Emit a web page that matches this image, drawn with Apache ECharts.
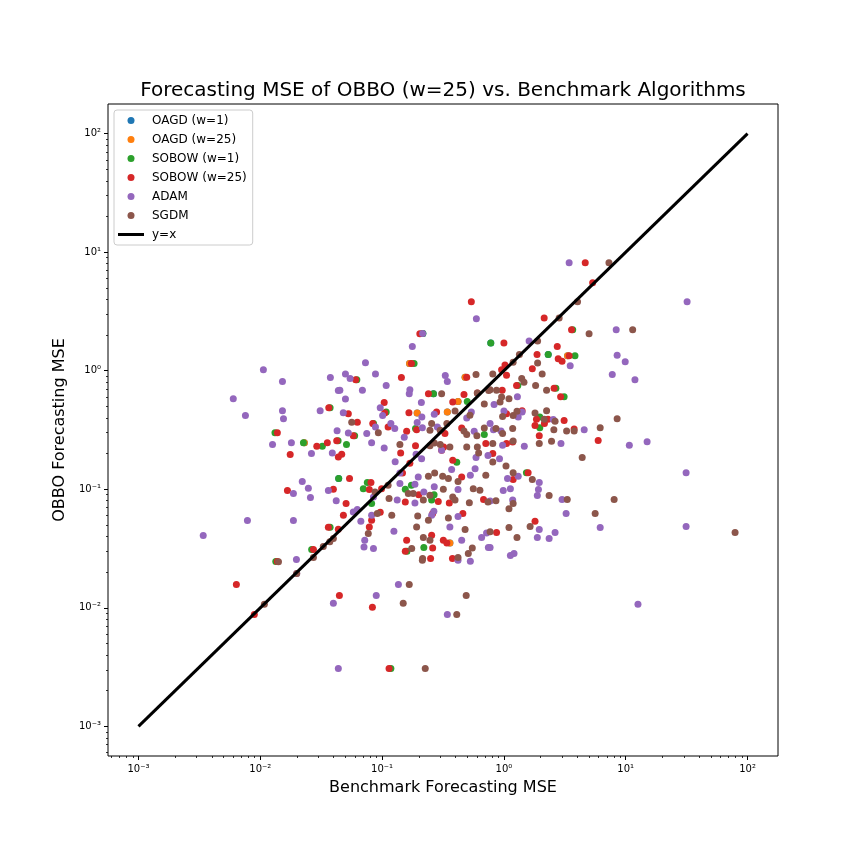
<!DOCTYPE html>
<html>
<head>
<meta charset="utf-8">
<script src="https://cdn.jsdelivr.net/npm/echarts@6/dist/echarts.min.js"></script>
<style>html,body{margin:0;padding:0;background:#fff}#c{width:864px;height:864px}</style>
</head>
<body>
<div id="c"></div>
<script>
const titleText = 'Forecasting MSE of OBBO (w=25) vs. Benchmark Algorithms';
const xLabel = 'Benchmark Forecasting MSE';
const yLabel = 'OBBO Forecasting MSE';
const seriesNames = ['OAGD (w=1)', 'OAGD (w=25)', 'SOBOW (w=1)', 'SOBOW (w=25)', 'ADAM', 'SGDM'];
const tickValues = [1e-3, 1e-2, 1e-1, 1, 10, 100];
const tickLabels = ['10\u207B\u00B3', '10\u207B\u00B2', '10\u207B\u00B9', '10\u2070', '10\u00B9', '10\u00B2'];
const axisMin = 5.62e-4;
const axisMax = 177.8;
const refLine = [[1e-3, 1e-3], [100, 100]];

const oagd1 = [[0.168,1.15],[0.48,0.88],[0.42,0.55],[0.194,0.439],[0.343,0.448],[0.023,0.247],[3.33,1.34],[0.36,0.0352],[0.216,2.06],[0.78,1.71],[0.264,0.64],[2.31,1.37],[0.044,0.123]];
const oagd25 = [[0.168,1.15],[0.48,0.88],[0.42,0.55],[0.194,0.439],[0.343,0.448],[0.023,0.247],[3.33,1.34],[0.36,0.0352]];
const sobow1 = [[0.0374,0.488],[0.0132,0.30],[0.0226,0.247],[0.0323,0.23],[0.0435,0.257],[0.216,2.06],[0.183,1.15],[0.78,1.71],[0.062,0.84],[0.264,0.64],[0.5,0.55],[0.108,0.448],[0.188,0.325],[0.69,0.29],[0.0595,0.283],[0.085,0.358],[0.051,0.238],[2.31,1.37],[3.83,1.34],[3.67,2.22],[1.3,0.75],[2.67,0.71],[3.12,0.604],[1.97,0.407],[1.97,0.33],[0.044,0.123],[0.0374,0.0478],[0.0264,0.031],[0.0134,0.0246],[0.0701,0.101],[0.0756,0.114],[0.155,0.1],[0.174,0.108],[0.267,0.09],[0.255,0.081],[0.082,0.0758],[0.41,0.169],[0.16,0.03],[0.22,0.0323],[1.53,0.138],[0.118,0.00308]];
const sobow25 = [[0.0365,0.488],[0.0138,0.30],[0.0291,0.23],[0.0355,0.247],[0.0424,0.257],[0.204,2.05],[0.174,1.15],[0.0607,0.84],[0.144,0.875],[0.495,0.88],[0.104,0.54],[0.105,0.439],[0.166,0.443],[0.28,0.448],[0.24,0.64],[0.47,0.63],[0.605,0.648],[0.38,0.545],[0.0528,0.434],[0.0626,0.367],[0.0838,0.358],[0.112,0.335],[0.328,0.295],[0.45,0.329],[0.159,0.308],[0.192,0.318],[0.058,0.283],[0.188,0.233],[0.32,0.227],[0.71,0.243],
[3.59,2.22],[1.0,1.71],[2.74,1.6],[1.87,1.37],[2.79,1.26],[3.0,1.2],[3.43,1.34],[1.71,1.04],[1.02,1.12],[0.957,1.02],[1.05,0.915],[1.27,0.75],[2.58,0.71],[2.92,0.604],[0.968,0.683],[1.05,0.434],[1.41,0.46],[1.85,0.39],[1.8,0.345],[2.15,0.358],[2.3,0.39],[3.12,0.38],[3.77,0.322],[1.95,0.283],[5.94,0.258],[1.05,0.243],[1.18,0.25],
[0.0176,0.196],[0.0437,0.187],[0.0167,0.0975],[0.0398,0.1],[0.0362,0.0478],[0.0437,0.046],[0.0273,0.031],[0.0138,0.0246],
[0.0466,0.197],[0.142,0.202],[0.169,0.166],[0.308,0.213],[0.38,0.176],[0.147,0.137],[0.054,0.123],[0.081,0.114],[0.0785,0.0994],[0.099,0.101],[0.2,0.09],[0.45,0.127],[0.68,0.082],[0.356,0.0767],[0.289,0.079],[0.155,0.078],[0.0506,0.0758],[0.0481,0.0603],[0.0965,0.064],[0.082,0.0547],[0.0785,0.0481],[0.46,0.0624],[0.26,0.0624],[0.159,0.0372],[0.255,0.041],[0.318,0.0372],[0.34,0.0352],[0.155,0.03],[0.26,0.032],[0.25,0.026],[0.378,0.026],
[0.81,0.2],[1.19,0.121],[1.58,0.138],[1.8,0.0537],[0.87,0.0432],
[4.65,8.14],[5.35,5.53],[2.14,2.78],[0.54,3.82],
[0.00636,0.0157],[0.00893,0.00877],[0.0446,0.0127],[0.0832,0.0101],[0.114,0.00308]];
const adam = [[0.0106,1.02],[0.0152,0.81],[0.0376,0.875],[0.0437,0.68],[0.006,0.58],[0.00755,0.418],[0.0152,0.46],[0.0155,0.394],[0.031,0.46],[0.0427,0.312],[0.0126,0.238],[0.018,0.247],[0.215,2.06],[0.177,1.6],[0.073,1.17],[0.05,0.94],[0.0546,0.86],[0.0882,0.94],[0.108,0.75],[0.0689,0.683],[0.169,0.69],[0.167,0.64],[0.33,0.91],[0.343,0.81],[0.045,0.683],[0.05,0.577],[0.21,0.54],[0.0965,0.488],[0.101,0.418],[0.54,0.448],[0.495,0.40],[0.048,0.443],[0.118,0.358],[0.127,0.325],[0.194,0.365],[0.212,0.407],[0.268,0.429],[0.284,0.335],[0.57,0.308],[0.214,0.33],[0.0528,0.298],[0.0748,0.295],[0.082,0.247],[0.152,0.274],[0.104,0.223],[0.0882,0.335],
[1.61,1.78],[3.5,1.10],[8.35,2.22],[8.5,1.35],[9.9,1.19],[7.75,0.93],[11.9,0.84],[0.83,0.52],[1.29,0.604],[1.0,0.457],[1.31,0.407],[1.41,0.448],[2.54,0.387],[4.56,0.318],[0.77,0.358],[0.82,0.318],[0.946,0.31],[0.975,0.235],[1.47,0.23],[2.94,0.243],[10.7,0.235],
[0.0263,0.2],[0.039,0.202],[0.0221,0.116],[0.0248,0.102],[0.0187,0.092],[0.0258,0.085],[0.0362,0.0975],[0.042,0.08],[0.00784,0.0545],[0.0187,0.0545],[0.0034,0.0408],[0.0198,0.0255],[0.0199,0.0195],
[0.128,0.171],[0.19,0.197],[0.211,0.181],[0.308,0.213],[0.59,0.185],[0.74,0.193],[0.14,0.137],[0.198,0.127],[0.372,0.147],[0.58,0.149],[0.53,0.131],[0.14,0.112],[0.186,0.11],[0.22,0.095],[0.268,0.105],[0.42,0.0994],[0.186,0.0767],[0.133,0.081],[0.0849,0.0862],[0.058,0.0644],[0.0626,0.0675],[0.082,0.0603],[0.0669,0.0537],[0.125,0.0443],[0.255,0.0603],[0.266,0.0652],[0.36,0.0481],[0.42,0.059],[0.72,0.0428],[0.656,0.0392],[0.45,0.0372],[0.072,0.0372],[0.071,0.0326],[0.0849,0.0316],[0.745,0.0323],[0.53,0.0247],
[0.92,0.181],[1.31,0.129],[1.07,0.123],[1.95,0.114],[1.92,0.0994],[1.88,0.0885],[0.987,0.0975],[1.13,0.101],[3.0,0.082],[3.24,0.0624],[6.17,0.0475],[0.77,0.0797],[1.18,0.081],[1.95,0.0457],[1.88,0.0392],[2.35,0.0384],[2.63,0.0432],[0.77,0.0323],[1.13,0.0276],[1.21,0.0287],
[3.43,8.14],[0.594,2.75],[31.9,3.82],[14.98,0.252],[31.3,0.138],[31.3,0.0485],[12.6,0.0107],
[0.0398,0.0109],[0.0895,0.0127],[0.136,0.0157],[0.343,0.00877],[0.0437,0.00308],[0.42,0.0252]];
const sgdm = [[0.59,0.93],[0.605,0.648],[0.308,0.64],[0.75,0.68],[0.69,0.525],[0.397,0.457],[0.526,0.42],[0.0563,0.367],[0.0931,0.30],[0.255,0.358],[0.247,0.314],[0.34,0.358],[0.3,0.314],[0.47,0.31],[0.495,0.29],[0.69,0.329],[0.6,0.283],[0.14,0.238],[0.247,0.233],[0.268,0.245],[0.3,0.239],[0.36,0.227],[0.495,0.227],[0.605,0.227],
[2.84,2.78],[5.0,2.05],[11.4,2.22],[1.89,1.78],[1.34,1.37],[1.19,1.18],[1.89,1.16],[2.06,0.94],[0.81,0.94],[1.4,0.86],[1.46,0.80],[1.82,0.75],[2.24,0.683],[0.77,0.69],[0.87,0.683],[0.957,0.60],[0.93,0.545],[1.1,0.58],[0.975,0.41],[1.19,0.418],[1.28,0.454],[1.8,0.439],[2.24,0.46],[2.14,0.39],[2.63,0.374],[2.57,0.318],[3.27,0.31],[3.77,0.31],[6.17,0.331],[8.5,0.394],[0.86,0.325],[0.975,0.295],[1.18,0.325],[0.81,0.243],[1.19,0.255],[1.95,0.243],[2.46,0.254],
[0.0398,0.0384],[0.0372,0.036],[0.0329,0.0329],[0.0273,0.0266],[0.0141,0.0244],[0.0199,0.0195],
[0.62,0.202],[0.24,0.129],[0.27,0.137],[0.314,0.129],[0.35,0.123],[0.71,0.131],[0.0875,0.095],[0.112,0.108],[0.164,0.092],[0.18,0.092],[0.247,0.089],[0.318,0.1],[0.42,0.116],[0.56,0.101],[0.635,0.098],[0.74,0.078],[0.52,0.077],[0.38,0.086],[0.397,0.081],[0.218,0.081],[0.114,0.0834],[0.0913,0.0624],[0.12,0.0603],[0.077,0.0424],[0.196,0.0595],[0.192,0.0481],[0.24,0.0547],[0.35,0.0573],[0.48,0.0457],[0.218,0.0392],[0.247,0.0372],[0.175,0.0316],[0.55,0.032],[0.215,0.026],[0.42,0.0266],[0.51,0.0287],
[0.81,0.17],[1.04,0.157],[1.19,0.138],[1.71,0.121],[2.35,0.0885],[3.31,0.082],[4.39,0.185],[8.03,0.082],[5.61,0.0624],[0.86,0.08],[1.19,0.0758],[1.1,0.0685],[1.64,0.0485],[1.1,0.0475],[0.77,0.0437],[1.28,0.0392],
[7.28,8.14],[4.02,3.82],[79,0.0432],
[0.0108,0.0107],[0.167,0.0157],[0.149,0.0109],[0.49,0.0127],[0.41,0.00877],[0.226,0.00308],[0.214,0.0252]];

const colors = ['#1f77b4', '#ff7f0e', '#2ca02c', '#d62728', '#9467bd', '#8c564b'];
const allSeries = [oagd1, oagd25, sobow1, sobow25, adam, sgdm];

const minorTicks = [];
for (let e = -4; e <= 2; e++) {
  for (let m = 2; m <= 9; m++) {
    const v = m * Math.pow(10, e);
    if (v > axisMin && v < axisMax) minorTicks.push(v);
  }
}

const FONT = 'DejaVu Sans';
function fmt(v) {
  let best = 0, bd = Infinity;
  tickValues.forEach((t, i) => { const d = Math.abs(Math.log10(t) - Math.log10(v)); if (d < bd) { bd = d; best = i; } });
  return tickLabels[best];
}
function majorAxis(isX) {
  return {
    type: 'log', logBase: 10, min: axisMin, max: axisMax,
    position: isX ? 'bottom' : 'left',
    axisLine: { show: false },
    splitLine: { show: false },
    axisTick: { show: true, customValues: tickValues, length: 4, lineStyle: { color: '#000', width: 1 } },
    axisLabel: { show: true, customValues: tickValues, formatter: fmt, fontFamily: FONT, fontSize: 10, color: '#000', margin: isX ? 8 : 7 },
    name: isX ? xLabel : yLabel,
    nameLocation: 'middle',
    nameGap: isX ? 24 : 35,
    nameTextStyle: { fontFamily: FONT, fontSize: 16, color: '#000' }
  };
}
function minorAxis(isX) {
  return {
    type: 'log', logBase: 10, min: axisMin, max: axisMax,
    position: isX ? 'bottom' : 'left',
    axisLine: { show: false },
    splitLine: { show: false },
    axisTick: { show: true, customValues: minorTicks, length: 2, lineStyle: { color: '#000', width: 0.8 } },
    axisLabel: { show: false }
  };
}

const series = allSeries.map((d, i) => ({
  name: seriesNames[i], type: 'scatter', data: d, symbolSize: 7,
  itemStyle: { color: colors[i], opacity: 1 }, xAxisIndex: 0, yAxisIndex: 0, z: 2 + i
}));
series.push({
  name: 'y=x', type: 'line', data: refLine, showSymbol: false, symbol: 'none',
  lineStyle: { color: '#000', width: 3 }, itemStyle: { color: '#000' },
  xAxisIndex: 0, yAxisIndex: 0, z: 20, clip: false
});

const legendData = seriesNames.map((n, i) => ({ name: n, icon: 'circle' }));
legendData.push({ name: 'y=x', icon: 'path://M0,0L26,0L26,3L0,3Z' });

const chart = echarts.init(document.getElementById('c'), null, { renderer: 'canvas' });
chart.setOption({
  animation: false,
  backgroundColor: '#fff',
  textStyle: { fontFamily: FONT },
  grid: { left: 108, right: 86, top: 104, bottom: 108, show: true, borderColor: '#000', borderWidth: 1, backgroundColor: 'transparent', containLabel: false },
  graphic: [{ type: 'text', x: 443, y: 91, z: 50, style: { text: titleText, fontFamily: FONT, fontSize: 20, fill: '#000', textAlign: 'center', textVerticalAlign: 'middle' } }],
  legend: {
    orient: 'vertical', left: 114, top: 110,
    itemWidth: 26, itemHeight: 7, itemGap: 4,
    padding: [3, 6, 3, 4],
    backgroundColor: 'rgba(255,255,255,0.8)', borderColor: '#cccccc', borderWidth: 1, borderRadius: 3,
    textStyle: { fontFamily: FONT, fontSize: 12, color: '#000', lineHeight: 15, padding: [0, 0, 0, 3] },
    data: legendData, selectedMode: false
  },
  xAxis: [majorAxis(true), minorAxis(true)],
  yAxis: [majorAxis(false), minorAxis(false)],
  series: series
});
</script>
</body>
</html>
